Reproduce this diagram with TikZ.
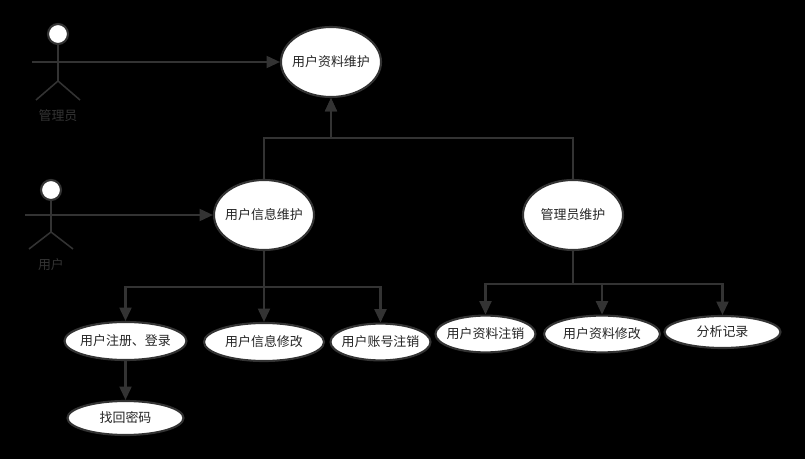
\documentclass[tikz,border=0pt]{standalone}
\usepackage{fontspec}
\setmainfont{Noto Sans CJK SC}
\usepackage{tikz}
\usetikzlibrary{arrows.meta,positioning,shapes.geometric}
\definecolor{linegray}{HTML}{333333}

\begin{document}
\begin{tikzpicture}[x=0.025cm,y=-0.025cm,font=\fontsize{9.2pt}{11pt}\selectfont,
  usecase/.style={draw=linegray,line width=1.5pt,ellipse,fill=white,inner sep=-4pt,text=black!85},
  head/.style={draw=linegray,line width=1.5pt,circle,fill=white,minimum size=0.5cm,inner sep=0pt},
  actorlabel/.style={text=linegray},
  limb/.style={draw=linegray,line width=1.1pt},
  flow/.style={draw=linegray,line width=1.5pt,-{Triangle[length=9.5pt,width=8.5pt]}},
  thinflow/.style={draw=linegray,line width=1.1pt,-{Triangle[length=9.5pt,width=8.5pt]}}]
\fill[black] (0,0) rectangle (805,459);
\useasboundingbox (0,0) rectangle (805,459);
% use cases
\node[usecase,minimum width=2.5cm,minimum height=1.75cm] (profile) at (331,62) {用户资料维护};
\node[usecase,minimum width=2.5cm,minimum height=1.75cm] (info) at (264,215) {用户信息维护};
\node[usecase,minimum width=2.5cm,minimum height=1.75cm] (admin) at (573,215) {管理员维护};
\node[usecase,minimum width=3.05cm,minimum height=0.95cm] (reg) at (125.5,341) {用户注册、登录};
\node[usecase,minimum width=3cm,minimum height=0.95cm] (edit) at (264,342) {用户信息修改};
\node[usecase,minimum width=2.5cm,minimum height=0.92cm] (cancel) at (380.5,342) {用户账号注销};
\node[usecase,minimum width=2.9cm,minimum height=0.85cm] (pwd) at (125.5,418) {找回密码};
\node[usecase,minimum width=2.5cm,minimum height=0.92cm] (mcancel) at (485.5,334) {用户资料注销};
\node[usecase,minimum width=2.9cm,minimum height=0.92cm] (medit) at (602,334) {用户资料修改};
\node[usecase,minimum width=2.9cm,minimum height=0.8cm] (log) at (722.5,332) {分析记录};
% actors
\node[head] (mgr) at (58,34) {};
\coordinate (mgrhip) at (58,81);
\coordinate (mgrarm) at (32,62);
\node[actorlabel] (mgrlabel) at (58,116) {管理员};
\draw[limb] (mgr.south) -- (mgrhip);
\draw[limb] (36,100) -- (mgrhip) -- (80,100);
\node[head] (usr) at (51,190) {};
\coordinate (usrhip) at (51,232);
\coordinate (usrarm) at (25,215);
\node[actorlabel] (usrlabel) at (51,265) {用户};
\draw[limb] (usr.south) -- (usrhip);
\draw[limb] (29,249) -- (usrhip) -- (73,249);
% connectors
\draw[flow] (mgrarm) -- (profile.west);
\draw[flow] (usrarm) -- (info.west);
\foreach \n in {info,admin} \draw[thinflow] (\n.north) -- ++(0,-41) -| (profile.south);
\foreach \n in {reg,edit,cancel} \draw[flow] (info.south) -- ++(0,36) -| (\n.north);
\foreach \n in {mcancel,medit,log} \draw[flow] (admin.south) -- ++(0,33) -| (\n.north);
\draw[flow] (reg.south) -- (pwd.north);
\end{tikzpicture}
\end{document}
